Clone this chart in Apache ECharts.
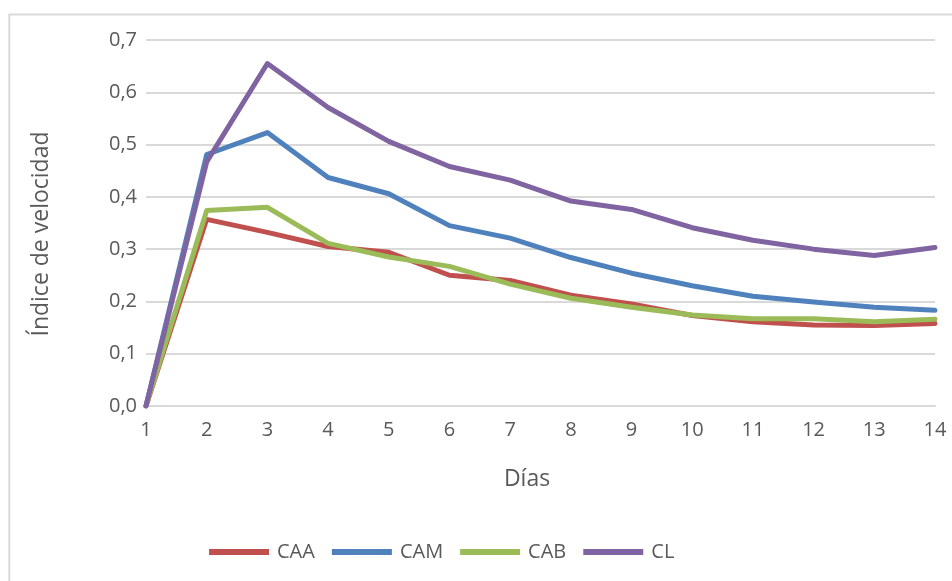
<!DOCTYPE html>
<html>
<head>
<meta charset="utf-8">
<title>Índice de velocidad</title>
<script src="https://cdn.jsdelivr.net/npm/echarts@6/dist/echarts.min.js"></script>
<style>
  html, body { margin: 0; padding: 0; background: #ffffff; }
  #chart { width: 952px; height: 581px; }
</style>
</head>
<body>
<div id="chart"></div>
<script>
// Days on the horizontal axis
const dias = ['1', '2', '3', '4', '5', '6', '7', '8', '9', '10', '11', '12', '13', '14'];

// Velocity index per treatment
const caa = [0, 0.357, 0.332, 0.305, 0.294, 0.250, 0.240, 0.212, 0.195, 0.173, 0.161, 0.155, 0.154, 0.158];
const cam = [0, 0.481, 0.523, 0.437, 0.406, 0.345, 0.321, 0.284, 0.254, 0.230, 0.210, 0.199, 0.189, 0.183];
const cab = [0, 0.374, 0.380, 0.311, 0.285, 0.267, 0.233, 0.206, 0.189, 0.174, 0.167, 0.167, 0.161, 0.166];
const cl  = [0, 0.467, 0.655, 0.571, 0.506, 0.458, 0.432, 0.392, 0.376, 0.341, 0.317, 0.300, 0.288, 0.303];

const seriesNames = ['CAA', 'CAM', 'CAB', 'CL'];
const seriesColors = ['#C0504D', '#4F81BD', '#9BBB59', '#8064A2'];
const seriesData = [caa, cam, cab, cl];

const font = '"Open Sans", "Liberation Sans", sans-serif';
const textColor = '#595959';
const gridColor = '#d9d9d9';

const chart = echarts.init(document.getElementById('chart'), null, { renderer: 'canvas' });

chart.setOption({
  animation: false,
  backgroundColor: '#ffffff',
  textStyle: { fontFamily: font },
  graphic: [{
    type: 'rect',
    shape: { x: 9.3, y: 14.5, width: 2000, height: 2000 },
    style: { fill: 'none', stroke: gridColor, lineWidth: 2 },
    silent: true,
    z: -1
  }],
  grid: { left: 146, right: 17, top: 40, bottom: 175, containLabel: false },
  legend: {
    bottom: 14,
    left: 204,
    icon: 'rect',
    itemWidth: 60,
    itemHeight: 6,
    itemGap: 17,
    textStyle: { color: textColor, fontSize: 20, fontFamily: font, padding: [0, 0, 0, 3] },
    data: seriesNames
  },
  xAxis: {
    type: 'category',
    data: dias,
    boundaryGap: false,
    name: 'Días',
    nameLocation: 'middle',
    nameGap: 62,
    nameTextStyle: { color: textColor, fontSize: 23, fontFamily: font, padding: [0, 27, 0, 0] },
    axisLine: { lineStyle: { color: gridColor, width: 2 } },
    axisTick: { show: false },
    axisLabel: { color: textColor, fontSize: 20, fontFamily: font, margin: 14 },
    splitLine: { show: false }
  },
  yAxis: {
    type: 'value',
    min: 0,
    max: 0.7,
    interval: 0.1,
    name: 'Índice de velocidad',
    nameLocation: 'middle',
    nameGap: 93,
    nameRotate: 90,
    nameTextStyle: { color: textColor, fontSize: 23, fontFamily: font, padding: [0, 22, 0, 0] },
    axisLine: { show: false },
    axisTick: { show: false },
    axisLabel: {
      color: textColor, fontSize: 20, fontFamily: font, margin: 9,
      formatter: v => v.toFixed(1).replace('.', ',')
    },
    splitLine: { lineStyle: { color: gridColor, width: 2 } }
  },
  series: seriesData.map((d, i) => ({
    name: seriesNames[i],
    type: 'line',
    data: d,
    showSymbol: false,
    symbol: 'none',
    color: seriesColors[i],
    lineStyle: { color: seriesColors[i], width: 5, join: 'round', cap: 'round' },
    z: 2 + i
  }))
});
</script>
</body>
</html>
